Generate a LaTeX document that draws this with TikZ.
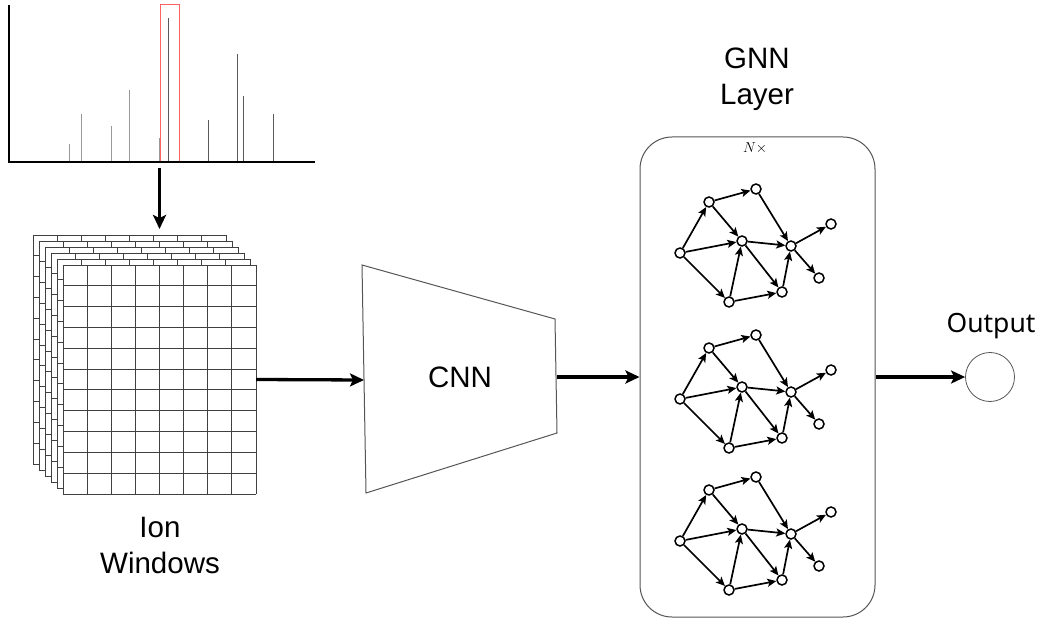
\documentclass[tikz,border=0pt]{standalone}
\usepackage{fontspec}
\setmainfont{Liberation Sans}
\newfontfamily\outfont{Noto Sans}
\usetikzlibrary{arrows.meta}
\definecolor{edgegray}{HTML}{555555}
\definecolor{selred}{HTML}{FF6060}
\begin{document}
\begin{tikzpicture}[x=1pt,y=-1pt,
  bigarrow/.style={line width=3.3pt,-{Stealth[length=14pt,width=13pt,inset=3pt]}},
  garrow/.style={line width=1.7pt,-{Stealth[length=9pt,width=8pt,inset=2pt]}},
  gn/.style={circle,draw,fill=white,line width=1.5pt,inner sep=0pt,minimum size=10pt},
  lbl/.style={font=\fontsize{29.5}{36}\selectfont,align=center,inner sep=0pt},
  peak/.style={line width=1pt},
  gridline/.style={draw=black!75,line width=0.9pt}
]
\useasboundingbox (0,0) rectangle (1041,620);

% spectrum
\node[draw=selred,line width=1pt,minimum width=19pt,minimum height=157pt,inner sep=0pt] (sel) at (169.5,83.5) {};
\foreach \x/\t in {69/144,81/114,111/126,129/90,159/138}
  \draw[peak,black!40] (\x,161) -- (\x,\t);
\foreach \x/\t in {168/18,208/120,237/54,243/96,273/114}
  \draw[peak,black!65] (\x,161) -- (\x,\t);
\draw[line width=2pt] (9,5) -- (9,162) -- (315,162);

% ion window stack
\foreach \i in {0,...,5} {
  \pgfmathsetmacro\ox{33+6*\i}
  \pgfmathsetmacro\oy{235+6*\i}
  \fill[white] (\ox,\oy) rectangle ++(193,229);
  \foreach \c in {0,...,8} \draw[gridline] (\ox+\c*24.125,\oy) -- ++(0,229);
  \foreach \r in {0,...,11} \draw[gridline] (\ox,\oy+\r*20.818) -- ++(193,0);
}
\node[minimum width=193pt,minimum height=229pt,inner sep=0pt] (win) at (159.5,379.5) {};
\node[lbl,anchor=north] (ionlbl) at (160,517) {Ion\\Windows};

\coordinate (specout) at (159.5,168);
\coordinate (wintop) at (159.5,229);
\draw[bigarrow] (specout) -- (wintop);

% CNN
\draw[edgegray,line width=1pt] (362,265) -- (555,319) -- (557,433) -- (366,493) -- cycle;
\node[font=\fontsize{29.5}{36}\selectfont,anchor=base,inner sep=0pt] (cnn) at (460,387) {CNN};
\coordinate (cnnin) at (364,380);
\coordinate (cnnout) at (557,377);
\draw[bigarrow] (win.east) -- (cnnin);

% GNN
\node[draw=edgegray,line width=1pt,rounded corners=32pt,minimum width=235pt,minimum height=480pt,inner sep=0pt] (gnn) at (757.5,377) {};
\node[lbl,anchor=north] (gnnlbl) at (757,48) {GNN\\Layer};
\node[font=\fontsize{15}{17}\selectfont] (nx) at (755,148) {$N\times$};
\draw[bigarrow] (cnnout) -- (gnn.west);

\foreach \k/\d in {1/0,2/146,3/288} {
  \node[gn] (a\k) at (680,253+\d) {};
  \node[gn] (b\k) at (709,202+\d) {};
  \node[gn] (c\k) at (756,189+\d) {};
  \node[gn] (d\k) at (742,241+\d) {};
  \node[gn] (e\k) at (729,302+\d) {};
  \node[gn] (f\k) at (782,292+\d) {};
  \node[gn] (g\k) at (791,246+\d) {};
  \node[gn] (h\k) at (831,224+\d) {};
  \node[gn] (i\k) at (819,278+\d) {};
  \draw[garrow] (a\k) -- (b\k);
  \draw[garrow] (a\k) -- (d\k);
  \draw[garrow] (a\k) -- (e\k);
  \draw[garrow] (b\k) -- (c\k);
  \draw[garrow] (b\k) -- (d\k);
  \draw[garrow] (c\k) -- (g\k);
  \draw[garrow] (d\k) -- (g\k);
  \draw[garrow] (d\k) -- (f\k);
  \draw[garrow] (e\k) -- (d\k);
  \draw[garrow] (e\k) -- (f\k);
  \draw[garrow] (f\k) -- (g\k);
  \draw[garrow] (g\k) -- (h\k);
  \draw[garrow] (g\k) -- (i\k);
}

% output
\node[circle,draw=edgegray,line width=0.8pt,minimum size=49pt,inner sep=0pt] (out) at (990,377) {};
\node[font=\outfont\fontsize{26.5}{30}\selectfont,anchor=base,inner sep=0pt] (outlbl) at (991,332) {Output};
\draw[bigarrow] (gnn.east) -- (out.west);
\end{tikzpicture}
\end{document}
